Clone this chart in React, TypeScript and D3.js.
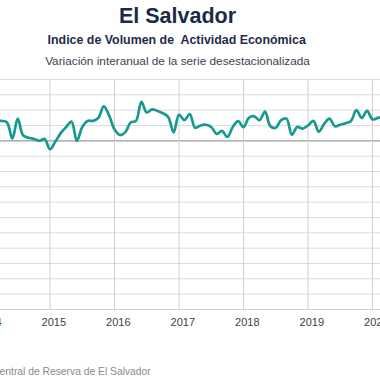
import React from "react";
import * as d3 from "d3";

// Monthly series starting January 2014 (year-on-year % change, seasonally adjusted)
const startYear = 2014;
const values: number[] = [
  1.6, 1.4, 1.3, 1.3, 1.2, 0.15, 1.45, 0.35, 0.2, 0.12, 0.0, 0.12,
  -0.55, -0.05, 0.5, 0.9, 1.25, 0.0, 0.9, 1.3, 1.3, 1.5, 2.25, 1.65,
  0.75, 0.38, 0.55, 1.2, 1.3, 2.55, 1.85, 2.05, 1.95, 1.8, 1.55, 0.55,
  1.7, 1.35, 1.75, 0.85, 1.0, 1.05, 0.9, 0.45, 0.65, 0.25, 0.9, 1.28,
  0.9, 1.5, 1.6, 1.35, 1.9, 0.95, 0.85, 1.35, 1.45, 0.4, 0.9, 0.8,
  1.0, 1.3, 0.6, 1.1, 1.45, 0.95, 1.05, 1.15, 1.3, 2.0, 1.5, 1.95,
  1.4, 1.5, 1.5,
];
const yearTicks: number[] = [2014, 2015, 2016, 2017, 2018, 2019, 2020];
const yTicks: number[] = d3.range(-11, 5);

const title = "El Salvador";
const subtitle = "Indice de Volumen de  Actividad Económica";
const subtitle2 = "Variación interanual de la serie desestacionalizada";
const source = "Fuente: Banco Central de Reserva de El Salvador";

export default function App() {
  const W = 380;
  const H = 380;
  const top = 79.5;
  const bottom = 309.5;
  const x = d3.scaleLinear().domain([2015, 2020]).range([50, 372.5]);
  const y = d3.scaleLinear().domain([-11, 4]).range([bottom, top]);

  const pts = values.map((v, i) => [startYear + i / 12, v] as [number, number]);
  const line = d3
    .line<[number, number]>()
    .x((d) => x(d[0]))
    .y((d) => y(d[1]))
    .curve(d3.curveCatmullRom.alpha(0.5));

  const font = "'Liberation Sans', Arial, sans-serif";

  return (
    <svg
      width={W}
      height={H}
      style={{ position: "absolute", left: 0, top: 0, background: "#fff" }}
      fontFamily={font}
    >
      <rect x={0} y={0} width={W} height={H} fill="#fff" />
      <text x={177.5} y={22.7} textAnchor="middle" fontSize={21.5} fontWeight="bold" fill="#1b2a48">
        {title}
      </text>
      <text
        x={176.7}
        y={44.3}
        textAnchor="middle"
        fontSize={12.4}
        fontWeight="bold"
        fill="#1f2b47"
        style={{ whiteSpace: "pre" }}
      >
        {subtitle}
      </text>
      <text x={177.5} y={65} textAnchor="middle" fontSize={11.8} fill="#3b4250">
        {subtitle2}
      </text>

      {yTicks.map((t) => (
        <line
          key={"h" + t}
          x1={0}
          x2={W}
          y1={y(t)}
          y2={y(t)}
          stroke={t === 0 ? "#9a9a9a" : "#dcdcdc"}
          strokeWidth={t === 0 ? 1.2 : 1}
        />
      ))}
      {yearTicks.map((t) => (
        <line
          key={"v" + t}
          x1={x(t)}
          x2={x(t)}
          y1={top}
          y2={bottom}
          stroke="#cfcfcf"
          strokeWidth={1}
        />
      ))}
      <line x1={0} x2={W} y1={bottom} y2={bottom} stroke="#d0d0d0" strokeWidth={1} />

      <path d={line(pts) || ""} fill="none" stroke="#17998f" strokeWidth={2.7} strokeLinejoin="round" strokeLinecap="round" />

      {yearTicks.map((t) => (
        <text key={"l" + t} x={x(t) + 3.8} y={326.3} textAnchor="middle" fontSize={11} fill="#404040">
          {t}
        </text>
      ))}

      <text x={150.7} y={374.5} textAnchor="end" fontSize={10.3} fill="#8a8a8a">
        {source}
      </text>
    </svg>
  );
}
